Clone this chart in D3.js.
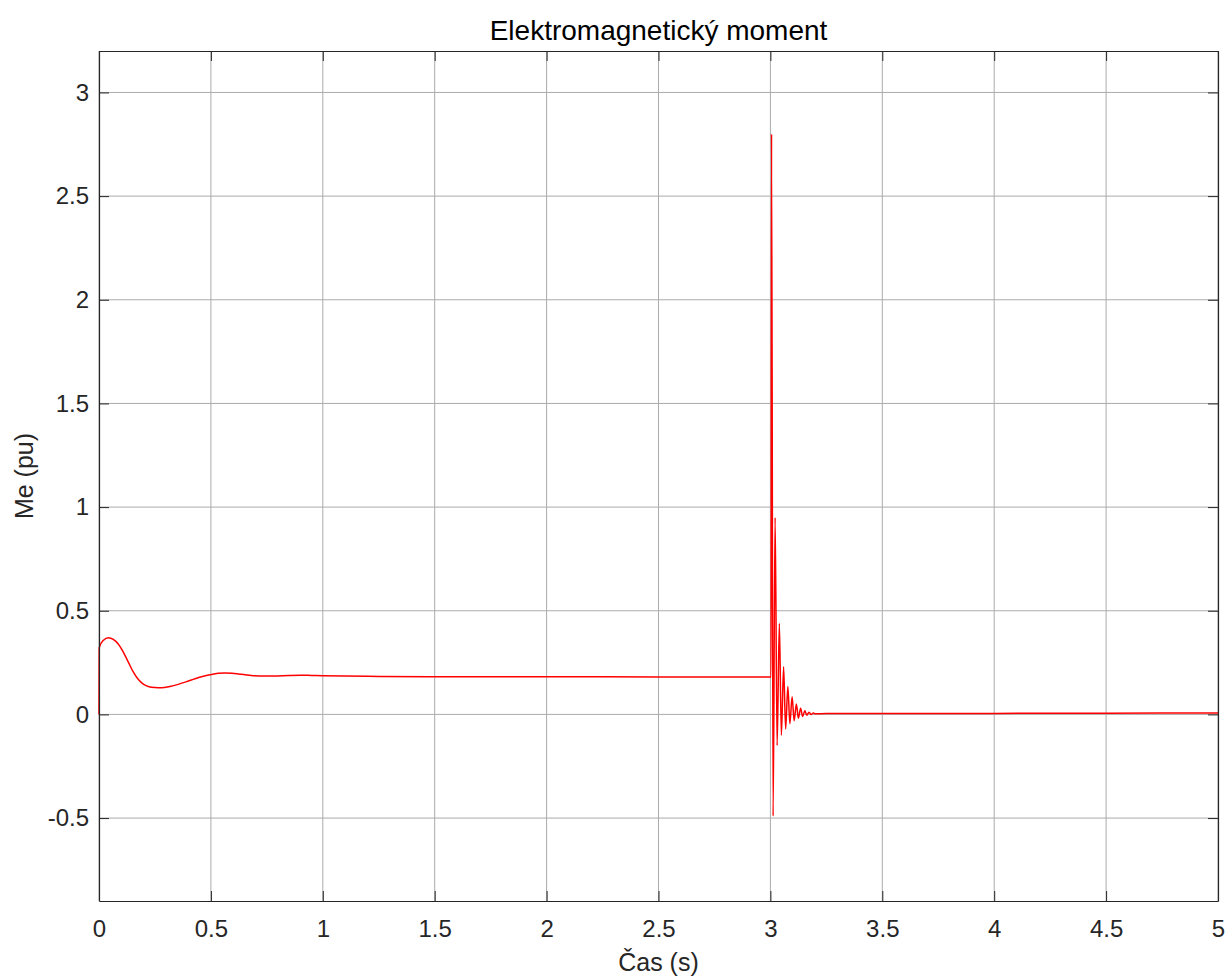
<!DOCTYPE html>
<html>
<head>
<meta charset="utf-8">
<script src="https://cdn.jsdelivr.net/npm/d3@7"></script>
<style>
  body { margin: 0; background: #fff; }
  svg { display: block; font-family: "Liberation Sans", Arial, Helvetica, sans-serif; }
</style>
</head>
<body>
<svg id="chart" width="1229" height="979"></svg>
<script>
// time (s) and electromagnetic torque (pu)
const timeStart = [0, 0.001, 0.02, 0.042, 0.064, 0.086, 0.108, 0.131, 0.153, 0.176, 0.198, 0.220, 0.250, 0.280, 0.317, 0.354, 0.392, 0.429, 0.466, 0.503, 0.533, 0.563, 0.595, 0.625, 0.652, 0.69, 0.74, 0.779, 0.85, 0.9, 0.95, 1.0, 1.2, 1.479, 2.0, 2.5, 3.0, 3.003];
const torqueStart = [0, 0.322, 0.358, 0.370, 0.362, 0.340, 0.302, 0.252, 0.205, 0.168, 0.146, 0.135, 0.130, 0.129, 0.135, 0.145, 0.158, 0.172, 0.184, 0.193, 0.198, 0.200, 0.199, 0.195, 0.191, 0.187, 0.185, 0.185, 0.188, 0.189, 0.188, 0.187, 0.184, 0.182, 0.182, 0.181, 0.181, 0.181];

const timeFault = [3.005, 3.012, 3.021, 3.030, 3.040, 3.049, 3.059, 3.068, 3.078, 3.087, 3.097, 3.106, 3.116, 3.125, 3.135, 3.144, 3.154, 3.163, 3.173, 3.182, 3.192, 3.2, 3.25, 3.5, 4.0, 4.5, 5.0];
const torqueFault = [2.80, -0.49, 0.95, -0.15, 0.44, -0.10, 0.23, -0.07, 0.135, -0.045, 0.085, -0.03, 0.05, -0.018, 0.03, -0.01, 0.018, -0.004, 0.011, 0.0, 0.007, 0.003, 0.004, 0.004, 0.005, 0.006, 0.007];

const xTicks = [0, 0.5, 1, 1.5, 2, 2.5, 3, 3.5, 4, 4.5, 5];
const yTicks = [-0.5, 0, 0.5, 1, 1.5, 2, 2.5, 3];

const title = "Elektromagnetický moment";
const xLabel = "Čas (s)";
const yLabel = "Me (pu)";

const data = timeStart.map((t, i) => ({t, v: torqueStart[i]}))
    .concat(timeFault.map((t, i) => ({t, v: torqueFault[i]})));

const margin = {top: 51, right: 11, bottom: 78, left: 99};
const width = 1229 - margin.left - margin.right;
const height = 979 - margin.top - margin.bottom;

const xScale = d3.scaleLinear().domain([0, 5]).range([0, width]);
const yScale = d3.scaleLinear().domain([-0.9, 3.2]).range([height, 0]);

const svgEl = d3.select("#chart");
const svg = svgEl.append("g")
    .attr("transform", `translate(${margin.left},${margin.top})`);

// grid
svg.append("g")
    .selectAll("line")
    .data(xTicks)
    .enter()
    .append("line")
    .attr("x1", d => xScale(d)).attr("x2", d => xScale(d))
    .attr("y1", 0).attr("y2", height)
    .attr("stroke", "#ababab").attr("stroke-width", 1);
svg.append("g")
    .selectAll("line")
    .data(yTicks)
    .enter()
    .append("line")
    .attr("x1", 0).attr("x2", width)
    .attr("y1", d => yScale(d)).attr("y2", d => yScale(d))
    .attr("stroke", "#ababab").attr("stroke-width", 1);

// data line
const line = d3.line()
    .x(d => xScale(d.t))
    .y(d => yScale(d.v))
    .curve(d3.curveMonotoneX);

svg.append("path")
    .datum(data)
    .attr("fill", "none")
    .attr("stroke", "#ff0000")
    .attr("stroke-width", 1.5)
    .attr("stroke-linejoin", "round")
    .attr("d", line);

// axes (inward ticks, mirrored on top/right)
const fmt = d => String(d);
const tickLen = 10;

const xAxisGroup = svg.append("g")
    .attr("transform", `translate(0,${height})`)
    .call(d3.axisBottom(xScale).tickValues(xTicks).tickFormat(fmt).tickSizeInner(-tickLen).tickSizeOuter(0).tickPadding(19));
const xTopGroup = svg.append("g")
    .call(d3.axisTop(xScale).tickValues(xTicks).tickFormat("").tickSizeInner(-tickLen).tickSizeOuter(0));
const yAxisGroup = svg.append("g")
    .call(d3.axisLeft(yScale).tickValues(yTicks).tickFormat(fmt).tickSizeInner(-tickLen).tickSizeOuter(0).tickPadding(10));
const yRightGroup = svg.append("g")
    .attr("transform", `translate(${width},0)`)
    .call(d3.axisRight(yScale).tickValues(yTicks).tickFormat("").tickSizeInner(-tickLen).tickSizeOuter(0));

[xAxisGroup, xTopGroup, yAxisGroup, yRightGroup].forEach(g => {
    g.select(".domain").attr("stroke", "#262626").attr("stroke-width", 1.2);
    g.selectAll(".tick line").attr("stroke", "#262626").attr("stroke-width", 1);
    g.selectAll("text")
        .attr("fill", "#262626")
        .attr("font-size", "24px")
        .style("font-family", "'Liberation Sans', Arial, sans-serif");
});

// labels
svgEl.append("text")
    .attr("x", margin.left + width / 2).attr("y", 40)
    .attr("text-anchor", "middle")
    .attr("font-size", "28px")
    .attr("fill", "#000")
    .text(title);

svgEl.append("text")
    .attr("x", margin.left + width / 2).attr("y", 971)
    .attr("text-anchor", "middle")
    .attr("font-size", "25px")
    .attr("fill", "#262626")
    .text(xLabel);

svgEl.append("text")
    .attr("transform", `translate(33,${margin.top + height / 2}) rotate(-90)`)
    .attr("text-anchor", "middle")
    .attr("font-size", "25px")
    .attr("fill", "#262626")
    .text(yLabel);
</script>
</body>
</html>
